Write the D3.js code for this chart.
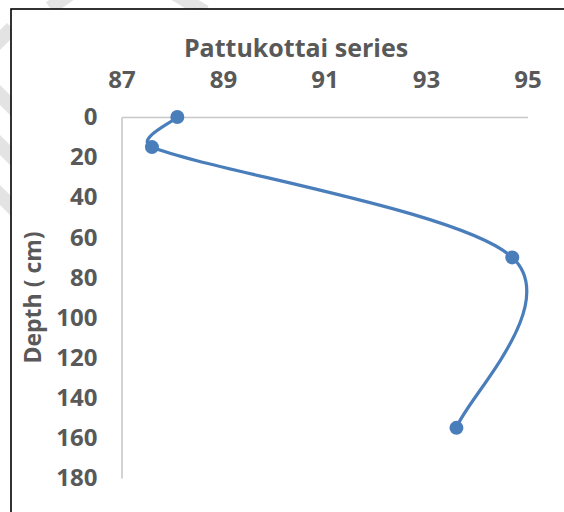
<!DOCTYPE html>
<html>
<head>
<meta charset="utf-8">
<script src="https://cdn.jsdelivr.net/npm/d3@7"></script>
<style>
  html, body { margin: 0; padding: 0; background: #fff; }
  svg { display: block; }
  text { font-family: "Open Sans", "Noto Sans", sans-serif; font-weight: 700; fill: #595959; }
</style>
</head>
<body>
<svg id="chart" width="564" height="512"></svg>
<script>
// ---- data ----
const title = "Pattukottai series";
const yAxisTitle = "Depth ( cm)";
const values = [88.1, 87.6, 94.7, 93.6];   // x values
const depths = [0, 15, 70, 155];           // y values (cm)
const xTicks = [87, 89, 91, 93, 95];
const yTicks = [0, 20, 40, 60, 80, 100, 120, 140, 160, 180];

const svg = d3.select("#chart");
const W = 564, H = 512;

// faint watermark strokes outside the frame
const wm = svg.append("g").attr("stroke", "#e3e3e3").attr("stroke-width", 14).attr("fill", "none");
[[[-20, 60], [12, 28]], [[-10, 85], [40, 135]], [[-10, 135], [40, 185]], [[-10, 185], [40, 235]],
 [[50, 8], [70, -6]], [[175, -6], [205, 12]]].forEach(s => {
  wm.append("line").attr("x1", s[0][0]).attr("y1", s[0][1]).attr("x2", s[1][0]).attr("y2", s[1][1]);
});

// chart frame
svg.append("rect").attr("x", 11).attr("y", 9).attr("width", W).attr("height", H)
  .attr("fill", "#fff").attr("stroke", "#000").attr("stroke-width", 1.6);

const x = d3.scaleLinear().domain([87, 95]).range([121.5, 527.5]);
const y = d3.scaleLinear().domain([0, 180]).range([117, 478]);

// title
svg.append("text").attr("x", 296).attr("y", 57).attr("text-anchor", "middle")
  .attr("font-size", 25).text(title);

// top x-axis
const xAxis = d3.axisTop(x).tickValues(xTicks).tickSize(0).tickPadding(29).tickFormat(d3.format("d"));
const gx = svg.append("g").attr("transform", `translate(0,${y(0)})`).call(xAxis);
gx.select(".domain").attr("stroke", "#c8c8c8").attr("stroke-width", 1.6);
gx.selectAll("text").attr("font-size", 24).attr("font-family", "Open Sans").attr("font-weight", 700).attr("fill", "#595959");

// left y-axis
const yAxis = d3.axisLeft(y).tickValues(yTicks).tickSize(0).tickPadding(24).tickFormat(d3.format("d"));
const gy = svg.append("g").attr("transform", `translate(${x(87)},0)`).call(yAxis);
gy.select(".domain").attr("stroke", "#c8c8c8").attr("stroke-width", 1.6);
gy.selectAll("text").attr("font-size", 24).attr("font-family", "Open Sans").attr("font-weight", 700).attr("fill", "#595959");

// y-axis title
svg.append("text").attr("transform", `translate(41,${(y(0) + y(180)) / 2}) rotate(-90)`)
  .attr("text-anchor", "middle").attr("font-size", 23).text(yAxisTitle);

// series: smoothed line (Catmull-Rom tangents, control arms capped to half the segment length)
const pts = values.map((v, i) => [v, depths[i]]);
const px = pts.map(d => [x(d[0]), y(d[1])]);
function smoothPath(p) {
  const path = d3.path();
  const n = p.length;
  const tangent = i => {
    const a = p[Math.max(i - 1, 0)], b = p[Math.min(i + 1, n - 1)];
    return [(b[0] - a[0]) / 6, (b[1] - a[1]) / 6];
  };
  const cap = (t, len) => {
    const l = Math.hypot(t[0], t[1]), m = 0.5 * len;
    return l > m ? [t[0] * m / l, t[1] * m / l] : t;
  };
  path.moveTo(p[0][0], p[0][1]);
  for (let i = 0; i < n - 1; i++) {
    const a = p[i], b = p[i + 1];
    const len = Math.hypot(b[0] - a[0], b[1] - a[1]);
    const t1 = cap(tangent(i), len), t2 = cap(tangent(i + 1), len);
    path.bezierCurveTo(a[0] + t1[0], a[1] + t1[1], b[0] - t2[0], b[1] - t2[1], b[0], b[1]);
  }
  return path.toString();
}
svg.append("path").attr("d", smoothPath(px))
  .attr("fill", "none").attr("stroke", "#4a7ebb").attr("stroke-width", 3.2);
svg.selectAll("circle.pt").data(pts).enter().append("circle")
  .attr("class", "pt").attr("cx", d => x(d[0])).attr("cy", d => y(d[1])).attr("r", 7)
  .attr("fill", "#4a7ebb");
</script>
</body>
</html>
